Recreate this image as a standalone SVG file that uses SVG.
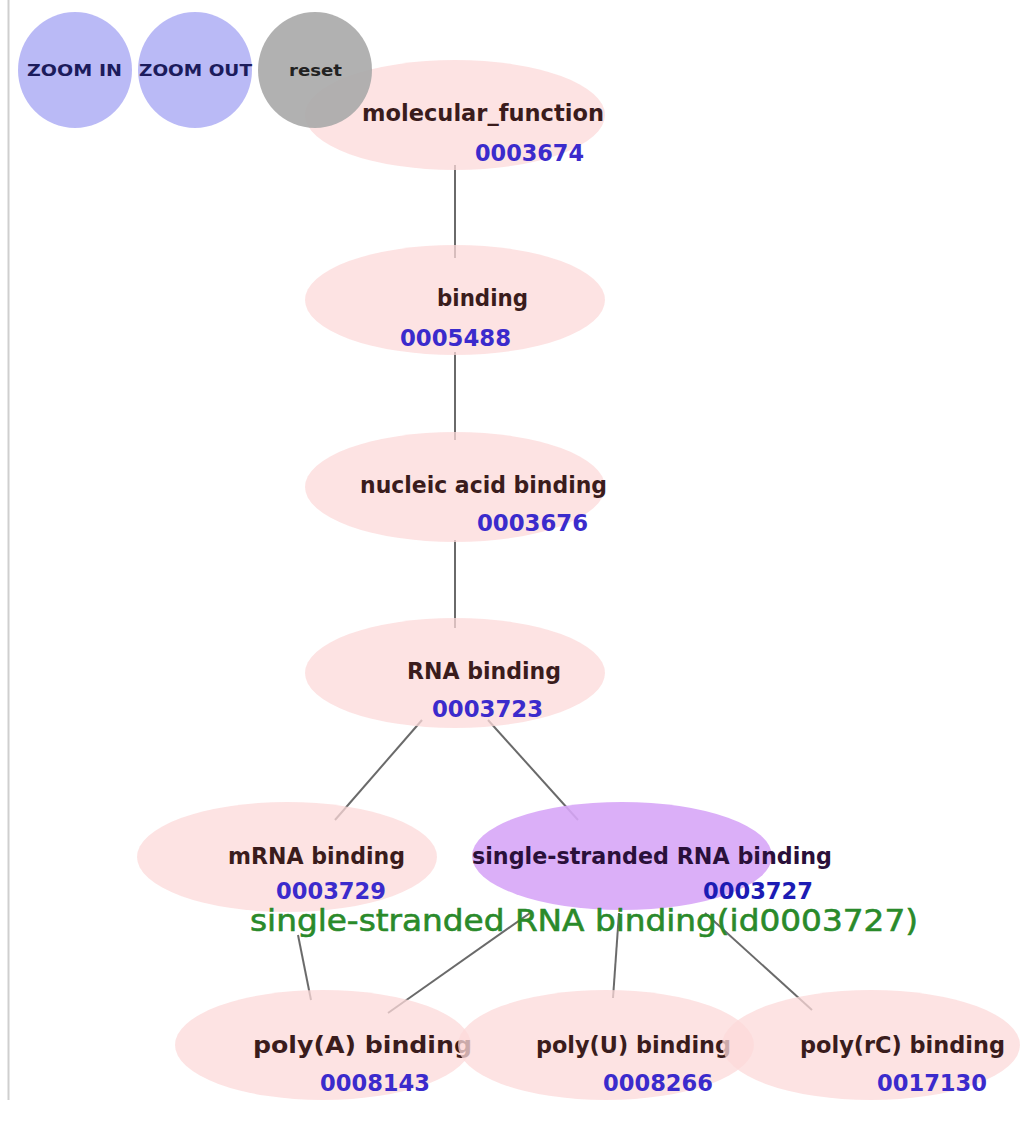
<svg xmlns="http://www.w3.org/2000/svg" width="1021" height="1126" viewBox="0 0 1021 1126">
<style>
.node{fill:#fcd9d9;fill-opacity:0.75}
.sel{fill:#d7a6f7;fill-opacity:0.9}
.btn{fill:#b6b6f6;fill-opacity:0.95}
.rst{fill:#a9a9a9;fill-opacity:0.9}
.lbl{font-family:"DejaVu Sans",Verdana,sans-serif;font-weight:bold;font-size:23px;fill:#3a1c1c}
.id{font-family:"DejaVu Sans",Verdana,sans-serif;font-weight:bold;font-size:23px;fill:#3b2bcc}
.bt{font-family:"DejaVu Sans",Verdana,sans-serif;font-weight:bold;font-size:16px;fill:#1c1c5c}
.edge{stroke:#6a6a6a;stroke-width:2;fill:none}
.tip{font-family:"DejaVu Sans",Verdana,sans-serif;font-size:30px;fill:#2a8a2a;stroke:#2a8a2a;stroke-width:0.6}
</style>
<rect width="1021" height="1126" fill="#ffffff"/>
<line x1="8.5" y1="0" x2="8.5" y2="1100" stroke="#cfcfcf" stroke-width="2"/>
<g id="connectors">
<line class="edge" x1="455" y1="165" x2="455" y2="258"/>
<line class="edge" x1="455" y1="352" x2="455" y2="440"/>
<line class="edge" x1="455" y1="540" x2="455" y2="628"/>
<line class="edge" x1="422" y1="720" x2="335" y2="820"/>
<line class="edge" x1="488" y1="720" x2="578" y2="820"/>
<line class="edge" x1="298" y1="935" x2="311" y2="1000"/>
<line class="edge" x1="530" y1="913" x2="388" y2="1013"/>
<line class="edge" x1="619" y1="913" x2="613" y2="998"/>
<line class="edge" x1="705" y1="913" x2="812" y2="1010"/>
</g>
<g id="n0003674">
<ellipse class="node" cx="455" cy="115" rx="150" ry="55"/>
<text class="lbl" x="362" y="121" textLength="242" lengthAdjust="spacingAndGlyphs">molecular_function</text>
<text class="id" x="475" y="161" textLength="109" lengthAdjust="spacingAndGlyphs">0003674</text>
</g>
<g id="n0005488">
<ellipse class="node" cx="455" cy="300" rx="150" ry="55"/>
<text class="lbl" x="437" y="306" textLength="91" lengthAdjust="spacingAndGlyphs">binding</text>
<text class="id" x="400" y="346" textLength="111" lengthAdjust="spacingAndGlyphs">0005488</text>
</g>
<g id="n0003676">
<ellipse class="node" cx="455" cy="487" rx="150" ry="55"/>
<text class="lbl" x="360" y="493" textLength="247" lengthAdjust="spacingAndGlyphs">nucleic acid binding</text>
<text class="id" x="477" y="531" textLength="111" lengthAdjust="spacingAndGlyphs">0003676</text>
</g>
<g id="n0003723">
<ellipse class="node" cx="455" cy="673" rx="150" ry="55"/>
<text class="lbl" x="407" y="679" textLength="154" lengthAdjust="spacingAndGlyphs">RNA binding</text>
<text class="id" x="432" y="717" textLength="111" lengthAdjust="spacingAndGlyphs">0003723</text>
</g>
<g id="n0003729">
<ellipse class="node" cx="287" cy="857" rx="150" ry="55"/>
<text class="lbl" x="228" y="864" textLength="177" lengthAdjust="spacingAndGlyphs">mRNA binding</text>
<text class="id" x="276" y="899" textLength="110" lengthAdjust="spacingAndGlyphs">0003729</text>
</g>
<g id="n0003727">
<ellipse class="sel" cx="622" cy="856" rx="150" ry="54"/>
<text class="lbl" x="472" y="864" textLength="360" lengthAdjust="spacingAndGlyphs" style="fill:#2a103a">single-stranded RNA binding</text>
<text class="id" x="703" y="899" textLength="110" lengthAdjust="spacingAndGlyphs" style="fill:#1c1cb4">0003727</text>
</g>
<g id="n0008143">
<ellipse class="node" cx="323" cy="1045" rx="148" ry="55"/>
<text class="lbl" x="253" y="1053" textLength="219" lengthAdjust="spacingAndGlyphs">poly(A) binding</text>
<text class="id" x="320" y="1091" textLength="110" lengthAdjust="spacingAndGlyphs">0008143</text>
</g>
<g id="n0008266">
<ellipse class="node" cx="606" cy="1045" rx="148" ry="55"/>
<text class="lbl" x="536" y="1053" textLength="195" lengthAdjust="spacingAndGlyphs">poly(U) binding</text>
<text class="id" x="603" y="1091" textLength="110" lengthAdjust="spacingAndGlyphs">0008266</text>
</g>
<g id="n0017130">
<ellipse class="node" cx="871" cy="1045" rx="149" ry="55"/>
<text class="lbl" x="800" y="1053" textLength="205" lengthAdjust="spacingAndGlyphs">poly(rC) binding</text>
<text class="id" x="877" y="1091" textLength="110" lengthAdjust="spacingAndGlyphs">0017130</text>
</g>
<g id="tooltip">
<text class="tip" x="250" y="931" textLength="668" lengthAdjust="spacingAndGlyphs">single-stranded RNA binding(id0003727)</text>
</g>
<g id="zoom-in">
<ellipse class="btn" cx="75" cy="70" rx="57" ry="58"/>
<text class="bt" x="27" y="76" textLength="95" lengthAdjust="spacingAndGlyphs">ZOOM IN</text>
</g>
<g id="zoom-out">
<ellipse class="btn" cx="195" cy="70" rx="57" ry="58"/>
<text class="bt" x="139" y="76" textLength="113" lengthAdjust="spacingAndGlyphs">ZOOM OUT</text>
</g>
<g id="reset">
<ellipse class="rst" cx="315" cy="70" rx="57" ry="58"/>
<text class="bt" x="289" y="76" textLength="53" lengthAdjust="spacingAndGlyphs" style="fill:#222222">reset</text>
</g>
</svg>
